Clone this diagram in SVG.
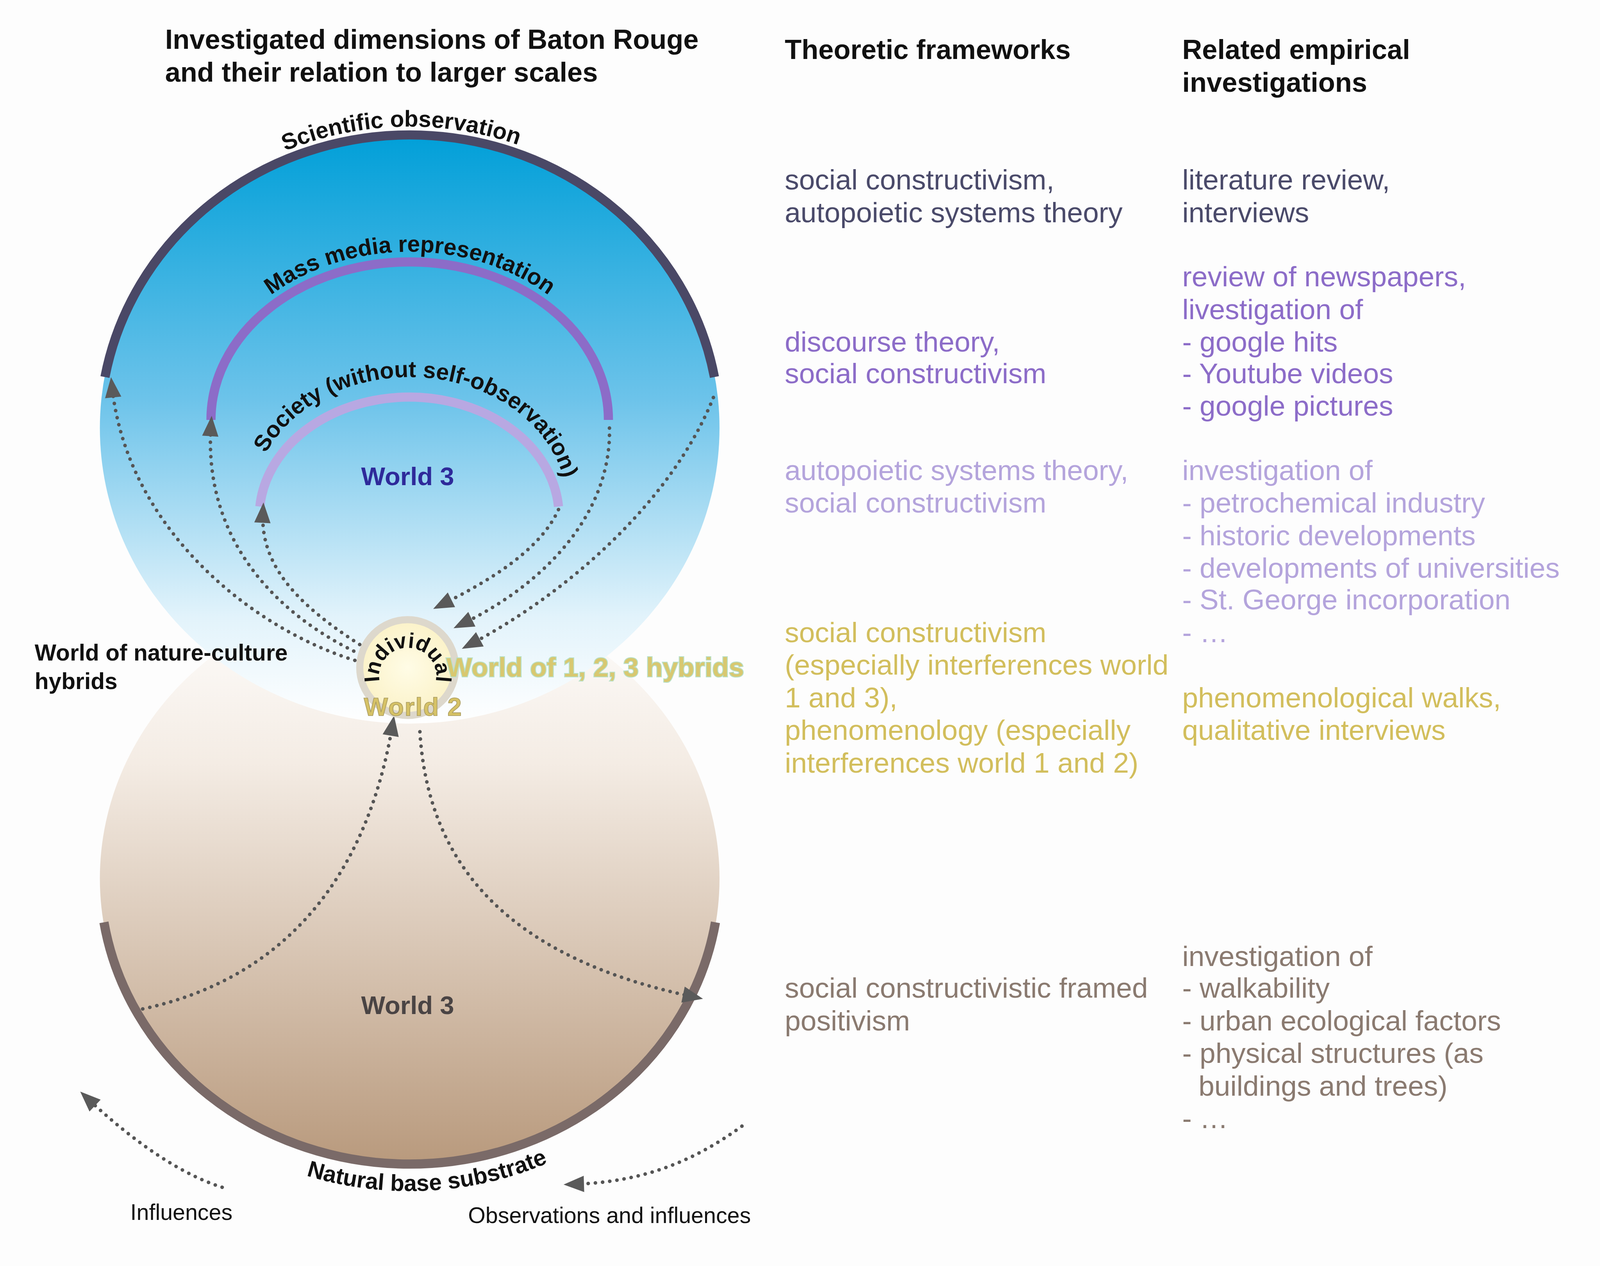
<svg xmlns="http://www.w3.org/2000/svg" xmlns:xlink="http://www.w3.org/1999/xlink" width="4176" height="3241" viewBox="0 0 4176 3241">
<style>
text{font-family:"Liberation Sans",Arial,sans-serif}
.h{font-weight:bold;font-size:27px;fill:#111}
.b{font-size:28px}
.lbl{font-weight:bold;font-size:22.5px;fill:#111}
.c1{fill:#4a4a6a}.c2{fill:#8c6cc8}.c3{fill:#b4a4dc}.c4{fill:#d2be5c}.c5{fill:#8a7a70}
.arr{fill:none;stroke:#555;stroke-width:3.5;stroke-dasharray:0.1 7;stroke-linecap:round;marker-end:url(#ah)}
</style>
<defs>
<linearGradient id="gu" x1="0" y1="130" x2="0" y2="710" gradientUnits="userSpaceOnUse">
<stop offset="0" stop-color="#009fd8"/><stop offset="0.45" stop-color="#6cc3ea"/><stop offset="0.82" stop-color="#e2f3fb"/><stop offset="1" stop-color="#ffffff"/></linearGradient>
<linearGradient id="gl" x1="0" y1="579" x2="0" y2="1145" gradientUnits="userSpaceOnUse">
<stop offset="0" stop-color="#ffffff"/><stop offset="0.3" stop-color="#f4ece4"/><stop offset="1" stop-color="#b8997c"/></linearGradient>
<radialGradient id="gi"><stop offset="0" stop-color="#fffce6"/><stop offset="1" stop-color="#fbf2c8"/></radialGradient>
<marker id="ah" markerUnits="userSpaceOnUse" markerWidth="24" markerHeight="24" viewBox="0 0 24 24" refX="12" refY="12" orient="auto"><path d="M2,4 L22,12 L2,20 Z" fill="#5a5a5a"/></marker>
<path id="tp1" d="M96.5,370 A310 296 0 0 1 707.5,370"/>
<path id="tp2" d="M200,410 A202 163 0 0 1 604,410"/>
<path id="tp3" d="M248,495 A154 125 0 0 1 556,495"/>
<path id="tp4" d="M374,674 A28 28 0 1 1 426,674"/>
<path id="tp5" d="M79,905 A326 305 0 0 0 725,905"/>
</defs>
<rect width="4176" height="3241" fill="#fdfdfd"/>
<g transform="scale(2.609)">
<g id="spheres">
<ellipse cx="402" cy="862" rx="304" ry="283" fill="url(#gl)"/>
<ellipse cx="402" cy="420" rx="304" ry="290" fill="url(#gu)"/>
</g>
<g id="scientific">
<path d="M103,370 A304 290 0 0 1 701,370" fill="none" stroke="#4a4866" stroke-width="9"/>
<text class="lbl"><textPath xlink:href="#tp1" startOffset="49%" text-anchor="middle">Scientific observation</textPath></text>
</g>
<g id="massmedia">
<path d="M207,412 A195 155 0 0 1 597,412" fill="none" stroke="#8c6cc8" stroke-width="9"/>
<text class="lbl"><textPath xlink:href="#tp2" startOffset="50%" text-anchor="middle">Mass media representation</textPath></text>
</g>
<g id="society">
<path d="M255,497 A147 117 0 0 1 548,497" fill="none" stroke="#b8a8e2" stroke-width="9"/>
<text class="lbl"><textPath xlink:href="#tp3" startOffset="53%" text-anchor="middle">Society (without self-observation)</textPath></text>
</g>
<g id="substrate">
<path d="M102,905 A304 283 0 0 0 702,905" fill="none" stroke="#7a6a68" stroke-width="9"/>
<text class="lbl"><textPath xlink:href="#tp5" startOffset="52%" text-anchor="middle">Natural base substrate</textPath></text>
</g>
<g id="connectors">
<path class="arr" d="M355,650 C250,620 125,520 110,380"/>
<path class="arr" d="M360,645 C260,600 200,520 207,418"/>
<path class="arr" d="M365,640 C300,600 255,560 258,503"/>
<path class="arr" d="M700,390 C660,490 560,580 462,632"/>
<path class="arr" d="M598,420 C600,500 540,570 454,612"/>
<path class="arr" d="M548,500 C530,540 480,570 434,593"/>
<path class="arr" d="M140,990 C280,960 360,860 385,712"/>
<path class="arr" d="M412,718 C420,850 500,940 680,978"/>
<path class="arr" d="M218,1165 C170,1150 120,1110 86,1078"/>
<path class="arr" d="M728,1105 C680,1140 630,1160 563,1162"/>
</g>
<g id="individual">
<circle cx="400" cy="655" r="47" fill="url(#gi)" stroke="#ddd8cc" stroke-width="7"/>
<text style="font-weight:bold;font-size:21px;fill:#111"><textPath xlink:href="#tp4" startOffset="50%" text-anchor="middle">Individual</textPath></text>
</g>
<g id="labels">
<text x="400" y="476" text-anchor="middle" style="font-weight:bold;font-size:25px;fill:#2e2a9a">World 3</text>
<text x="400" y="995" text-anchor="middle" style="font-weight:bold;font-size:25px;fill:#4a4444">World 3</text>
<text x="405" y="702" text-anchor="middle" style="font-weight:bold;font-size:25px;fill:#d6c266;stroke:#a89a60;stroke-width:0.6" textLength="96">World 2</text>
<text x="438" y="664" style="font-weight:bold;font-size:26px;fill:#d8c870;stroke:#b8e0c8;stroke-width:1.6;paint-order:stroke" textLength="292" lengthAdjust="spacingAndGlyphs">World of 1, 2, 3 hybrids</text>
<text x="34" y="648" class="lbl">World of nature-culture</text>
<text x="34" y="676" class="lbl">hybrids</text>
<text x="178" y="1197" text-anchor="middle" style="font-size:22px;fill:#111">Influences</text>
<text x="598" y="1200" text-anchor="middle" style="font-size:22px;fill:#111">Observations and influences</text>
</g>
<g id="headers">
<text x="162" y="48" class="h">Investigated dimensions of Baton Rouge</text>
<text x="162" y="80" class="h">and their relation to larger scales</text>
<text x="770" y="58" class="h">Theoretic frameworks</text>
<text x="1160" y="58" class="h">Related empirical</text>
<text x="1160" y="90" class="h">investigations</text>
</g>
<g id="theory" class="b">
<text x="770" y="186" class="c1">social constructivism,</text>
<text x="770" y="218" class="c1">autopoietic systems theory</text>
<text x="770" y="345" class="c2">discourse theory,</text>
<text x="770" y="376" class="c2">social constructivism</text>
<text x="770" y="471" class="c3">autopoietic systems theory,</text>
<text x="770" y="503" class="c3">social constructivism</text>
<text x="770" y="630" class="c4">social constructivism</text>
<text x="770" y="662" class="c4">(especially interferences world</text>
<text x="770" y="694" class="c4">1 and 3),</text>
<text x="770" y="726" class="c4">phenomenology (especially</text>
<text x="770" y="758" class="c4">interferences world 1 and 2)</text>
<text x="770" y="979" class="c5">social constructivistic framed</text>
<text x="770" y="1011" class="c5">positivism</text>
</g>
<g id="empirical" class="b">
<text x="1160" y="186" class="c1">literature review,</text>
<text x="1160" y="218" class="c1">interviews</text>
<text x="1160" y="281" class="c2">review of newspapers,</text>
<text x="1160" y="313" class="c2">livestigation of</text>
<text x="1160" y="345" class="c2">- google hits</text>
<text x="1160" y="376" class="c2">- Youtube videos</text>
<text x="1160" y="408" class="c2">- google pictures</text>
<text x="1160" y="471" class="c3">investigation of</text>
<text x="1160" y="503" class="c3">- petrochemical industry</text>
<text x="1160" y="535" class="c3">- historic developments</text>
<text x="1160" y="567" class="c3">- developments of universities</text>
<text x="1160" y="598" class="c3">- St. George incorporation</text>
<text x="1160" y="630" class="c3">- …</text>
<text x="1160" y="694" class="c4">phenomenological walks,</text>
<text x="1160" y="726" class="c4">qualitative interviews</text>
<text x="1160" y="948" class="c5">investigation of</text>
<text x="1160" y="979" class="c5">- walkability</text>
<text x="1160" y="1011" class="c5">- urban ecological factors</text>
<text x="1160" y="1043" class="c5">- physical structures (as</text>
<text x="1176" y="1075" class="c5">buildings and trees)</text>
<text x="1160" y="1107" class="c5">- …</text>
</g>
</g>
</svg>
